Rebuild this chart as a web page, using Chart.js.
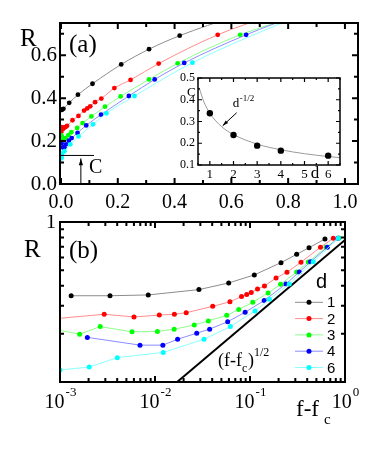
<!DOCTYPE html>
<html>
<head>
<meta charset="utf-8">
<script src="https://cdn.jsdelivr.net/npm/chart.js@4.4.1/dist/chart.umd.min.js"></script>
<style>
  body { margin: 0; background: #fff; }
  #wrap { position: relative; width: 382px; height: 451px; }
  canvas { position: absolute; }
</style>
</head>
<body>
<div id="wrap">
  <canvas id="chartA" width="382" height="215" style="left:0;top:0"></canvas>
  <canvas id="chartB" width="382" height="236" style="left:0;top:215px"></canvas>
  <canvas id="inset" width="180" height="115" style="left:170px;top:70px"></canvas>
</div>
<script>
// R against f-fc, one pair of arrays per d (reused in panel a)
var fx1 = [0.00131, 0.00336, 0.00849, 0.0290, 0.0597, 0.111, 0.212, 0.310, 0.418, 0.615];
var r1  = [0.346, 0.346, 0.350, 0.378, 0.416, 0.467, 0.557, 0.628, 0.691, 0.783];
var fx2 = [0.0005, 0.00292, 0.00601, 0.0111, 0.0160, 0.0213, 0.0405, 0.0615, 0.0814, 0.0923, 0.103, 0.120, 0.142, 0.188, 0.245, 0.344, 0.552, 0.753];
var r2  = [0.241, 0.265, 0.255, 0.262, 0.265, 0.271, 0.297, 0.317, 0.342, 0.352, 0.362, 0.381, 0.398, 0.447, 0.485, 0.561, 0.695, 0.791];
var fx3 = [0.0005, 0.00161, 0.00265, 0.00573, 0.0106, 0.0159, 0.0259, 0.0364, 0.0569, 0.0761, 0.107, 0.155, 0.210, 0.310, 0.411, 0.631, 0.865];
var r3  = [0.228, 0.199, 0.222, 0.206, 0.207, 0.214, 0.227, 0.241, 0.261, 0.284, 0.315, 0.360, 0.408, 0.487, 0.562, 0.695, 0.794];
var fx4 = [0.00194, 0.00695, 0.0121, 0.0173, 0.0275, 0.0376, 0.0582, 0.0889, 0.141, 0.239, 0.330, 0.434, 0.652, 0.843];
var r4  = [0.190, 0.170, 0.170, 0.185, 0.202, 0.214, 0.238, 0.273, 0.323, 0.410, 0.487, 0.564, 0.695, 0.792];
var fx6 = [0.001, 0.00203, 0.00401, 0.0122, 0.0328, 0.0621, 0.113, 0.160, 0.259, 0.463, 0.849];
var r6  = [0.119, 0.124, 0.142, 0.153, 0.185, 0.222, 0.278, 0.329, 0.410, 0.565, 0.791];
var dLabels = ['1', '2', '3', '4', '6'];

// the (f-fc)^1/2 guide line
var guideX = [0.0171, 1];
var guideR = [0.1, 0.772];

// inset: C against d, and the d^-1/2 curve
var dVals = [1, 2, 3, 4, 6];
var cVals = [0.338, 0.238, 0.189, 0.166, 0.143];
var fitD = [0.55, 0.75, 1, 1.5, 2, 3, 4, 5, 6, 6.5];
var fitC = [0.455, 0.390, 0.338, 0.276, 0.240, 0.196, 0.170, 0.152, 0.139, 0.134];

// ticks
var aTicksX = [0, 0.2, 0.4, 0.6, 0.8, 1.0];
var aTicksY = [0, 0.2, 0.4, 0.6];
var bTicksX = [0.001, 0.01, 0.1, 1];
var bExp = ['-3', '-2', '-1', '0'];
var inTicksX = [1, 2, 3, 4, 5, 6];
var inTicksY = [0.1, 0.2, 0.3, 0.4, 0.5];

var pointColors = ['#000000', '#ff0000', '#00ff00', '#0000ff', '#00ffff'];
var lineColors  = ['#8c8c8c', '#ff8c8c', '#8cff8c', '#8c8cff', '#8cffff'];
var SERIF = '"Liberation Serif", "Times New Roman", serif';
var SANS = '"Liberation Sans", Arial, sans-serif';

var allX = [fx1, fx2, fx3, fx4, fx6];
var allR = [r1, r2, r3, r4, r6];

function pts(xs, ys) {
  return xs.map(function (x, k) { return { x: x, y: ys[k] }; });
}

function series(i, smooth, radius) {
  return {
    data: pts(allX[i], allR[i]),
    showLine: true,
    borderColor: lineColors[i],
    borderWidth: 1,
    pointBackgroundColor: pointColors[i],
    pointBorderWidth: 0,
    pointRadius: radius,
    cubicInterpolationMode: smooth ? 'monotone' : 'default',
    tension: 0,
    order: 4 - i
  };
}

function text(ctx, s, x, y, size, align, base, family) {
  ctx.font = size + 'px ' + (family || SERIF);
  ctx.textAlign = align || 'left';
  ctx.textBaseline = base || 'alphabetic';
  ctx.fillText(s, x, y);
}

function arrow(ctx, x0, y0, x1, y1, head) {
  ctx.beginPath(); ctx.moveTo(x0, y0); ctx.lineTo(x1, y1); ctx.stroke();
  var ang = Math.atan2(y1 - y0, x1 - x0);
  ctx.beginPath();
  ctx.moveTo(x1, y1);
  ctx.lineTo(x1 - head * Math.cos(ang - 0.3), y1 - head * Math.sin(ang - 0.3));
  ctx.lineTo(x1 - head * Math.cos(ang + 0.3), y1 - head * Math.sin(ang + 0.3));
  ctx.closePath(); ctx.fill();
}

// frame + inward ticks on all four sides; ticks are [value, length]
function drawFrame(chart, xt, yt, frameW, tickW) {
  var ctx = chart.ctx, a = chart.chartArea, xs = chart.scales.x, ys = chart.scales.y;
  ctx.save();
  ctx.strokeStyle = '#000';
  ctx.lineWidth = tickW;
  ctx.beginPath();
  xt.forEach(function (t) {
    var p = xs.getPixelForValue(t[0]);
    ctx.moveTo(p, a.bottom); ctx.lineTo(p, a.bottom - t[1]);
    ctx.moveTo(p, a.top); ctx.lineTo(p, a.top + t[1]);
  });
  yt.forEach(function (t) {
    var p = ys.getPixelForValue(t[0]);
    ctx.moveTo(a.left, p); ctx.lineTo(a.left + t[1], p);
    ctx.moveTo(a.right, p); ctx.lineTo(a.right - t[1], p);
  });
  ctx.stroke();
  ctx.lineWidth = frameW;
  ctx.strokeRect(a.left, a.top, a.right - a.left, a.bottom - a.top);
  ctx.restore();
}

function linTicks(from, to, step, major, majLen, minLen) {
  var out = [];
  for (var v = from; v <= to + 1e-9; v += step) {
    var isMaj = Math.abs(v / major - Math.round(v / major)) < 1e-6;
    out.push([v, isMaj ? majLen : minLen]);
  }
  return out;
}

function logTicks(lo, hi, majLen, minLen) {
  var out = [];
  for (var dec = lo; dec < hi; dec *= 10) {
    for (var k = 1; k < 10; k++) out.push([dec * k, k === 1 ? majLen : minLen]);
  }
  out.push([hi, majLen]);
  return out;
}

var baseOpts = function (pad, xScale, yScale) {
  return {
    responsive: false,
    animation: false,
    events: [],
    layout: { padding: pad },
    plugins: { legend: { display: false }, tooltip: { enabled: false } },
    scales: { x: xScale, y: yScale }
  };
};

// ---------- panel (a) ----------
new Chart(document.getElementById('chartA'), {
  type: 'scatter',
  data: { datasets: [0, 1, 2, 3, 4].map(function (i) { return series(i, true, 2.4); }) },
  options: baseOpts({ left: 60, top: 23, right: 24, bottom: 31 },
    { type: 'linear', display: false, min: -0.0035, max: 1.046 },
    { type: 'linear', display: false, min: 0, max: 0.75 }),
  plugins: [{
    id: 'panelA',
    afterDraw: function (chart) {
      var ctx = chart.ctx, a = chart.chartArea, xs = chart.scales.x, ys = chart.scales.y;
      drawFrame(chart, linTicks(0, 1.0, 0.1, 0.2, 6, 4), linTicks(0, 0.7, 0.1, 0.2, 6, 4), 2, 2);
      ctx.save();
      ctx.fillStyle = '#000';
      aTicksX.forEach(function (v) { text(ctx, v.toFixed(1), xs.getPixelForValue(v), 208, 20, 'center'); });
      aTicksY.forEach(function (v) { text(ctx, v.toFixed(1), 57, ys.getPixelForValue(v), 21, 'right', 'middle'); });
      text(ctx, 'R', 20, 46, 25);
      text(ctx, '(a)', 69, 52, 25);
      // C marker
      var cy = ys.getPixelForValue(0.133), ax = xs.getPixelForValue(0.07);
      ctx.strokeStyle = '#000';
      ctx.lineWidth = 1;
      ctx.beginPath(); ctx.moveTo(a.left, cy); ctx.lineTo(a.left + 34, cy); ctx.stroke();
      arrow(ctx, ax, a.bottom, ax, cy + 3, 7);
      text(ctx, 'C', 89, 173, 20);
      ctx.restore();
    }
  }]
});

// ---------- panel (b) ----------
var dsB = [0, 1, 2, 3, 4].map(function (i) { return series(i, false, 2.5); });
dsB.push({
  data: pts(guideX, guideR), showLine: true, borderColor: '#000', borderWidth: 2,
  pointRadius: 0, order: 10
});
new Chart(document.getElementById('chartB'), {
  type: 'scatter',
  data: { datasets: dsB },
  options: baseOpts({ left: 60, top: 7, right: 37, bottom: 69 },
    { type: 'logarithmic', display: false, min: 0.001, max: 1 },
    { type: 'logarithmic', display: false, min: 0.1, max: 1 }),
  plugins: [{
    id: 'panelB',
    afterDraw: function (chart) {
      var ctx = chart.ctx, a = chart.chartArea, xs = chart.scales.x;
      drawFrame(chart, logTicks(0.001, 1, 6, 4), logTicks(0.1, 1, 6, 4), 2, 2);
      ctx.save();
      ctx.fillStyle = '#000';
      bTicksX.forEach(function (v, k) {
        var p = xs.getPixelForValue(v);
        ctx.font = '20px ' + SERIF;
        var w1 = ctx.measureText('10').width;
        ctx.font = '13px ' + SERIF;
        var w2 = ctx.measureText(bExp[k]).width;
        var x0 = p - (w1 + w2) / 2;
        text(ctx, '10', x0, 193, 20);
        text(ctx, bExp[k], x0 + w1 + 1, 181, 13);
      });
      text(ctx, '1', 56, 8, 20, 'right', 'middle');
      text(ctx, 'R', 24, 42, 25);
      text(ctx, '(b)', 69, 43, 25);
      // x title f-f_c
      text(ctx, 'f-f', 296, 201, 23);
      text(ctx, 'c', 324, 209, 15);
      // guide label (f-f_c)^1/2
      text(ctx, '(f-f', 218, 151, 18);
      ctx.font = '18px ' + SERIF;
      var wa = ctx.measureText('(f-f').width;
      text(ctx, 'c', 218 + wa, 157, 12);
      text(ctx, ')', 218 + wa + 6, 151, 18);
      text(ctx, '1/2', 218 + wa + 12, 141, 12);
      // legend
      text(ctx, 'd', 316, 73, 20, 'left', 'alphabetic', SANS);
      dLabels.forEach(function (lab, i) {
        var y = 87.3 + i * 16.3;
        ctx.strokeStyle = lineColors[i];
        ctx.lineWidth = 1;
        ctx.beginPath(); ctx.moveTo(295, y); ctx.lineTo(323, y); ctx.stroke();
        ctx.fillStyle = pointColors[i];
        ctx.beginPath(); ctx.arc(309, y, 2.5, 0, Math.PI * 2); ctx.fill();
        ctx.fillStyle = '#000';
        text(ctx, lab, 327, y + 1, 15, 'left', 'middle', SANS);
      });
      ctx.restore();
    }
  }]
});

// ---------- inset ----------
new Chart(document.getElementById('inset'), {
  type: 'scatter',
  data: {
    datasets: [{
      data: pts(dVals, cVals), pointRadius: 3.2, pointBackgroundColor: '#000',
      pointBorderWidth: 0, showLine: false, order: 0
    }, {
      data: pts(fitD, fitC), showLine: true, borderColor: '#9a9a9a', borderWidth: 1,
      pointRadius: 0, cubicInterpolationMode: 'monotone', order: 1
    }]
  },
  options: baseOpts({ left: 28, top: 8, right: 10, bottom: 20 },
    { type: 'linear', display: false, min: 0.5, max: 6.5 },
    { type: 'linear', display: false, min: 0.1, max: 0.5 }),
  plugins: [{
    id: 'insetDeco',
    afterDraw: function (chart) {
      var ctx = chart.ctx, xs = chart.scales.x, ys = chart.scales.y;
      drawFrame(chart, linTicks(0.5, 6.5, 0.5, 1, 4, 2), linTicks(0.1, 0.5, 0.05, 0.1, 4, 2), 1.5, 1.2);
      ctx.save();
      ctx.fillStyle = '#000';
      ctx.strokeStyle = '#000';
      inTicksX.forEach(function (v) { text(ctx, String(v), xs.getPixelForValue(v), 108, 13, 'center'); });
      inTicksY.forEach(function (v) { text(ctx, v.toFixed(1), 25, ys.getPixelForValue(v), 12, 'right', 'middle'); });
      text(ctx, 'C', 17, 26, 13);
      text(ctx, 'd', 145, 108, 17, 'center');
      // d^-1/2 label with arrow onto the curve
      var tx = xs.getPixelForValue(1.5), ty = ys.getPixelForValue(0.276);
      ctx.lineWidth = 1;
      arrow(ctx, tx + 15, ty - 14, tx + 1, ty - 1, 6);
      text(ctx, 'd', tx + 11, ty - 20, 13);
      text(ctx, '-1/2', tx + 18, ty - 26, 9);
      ctx.restore();
    }
  }]
});
</script>
</body>
</html>
